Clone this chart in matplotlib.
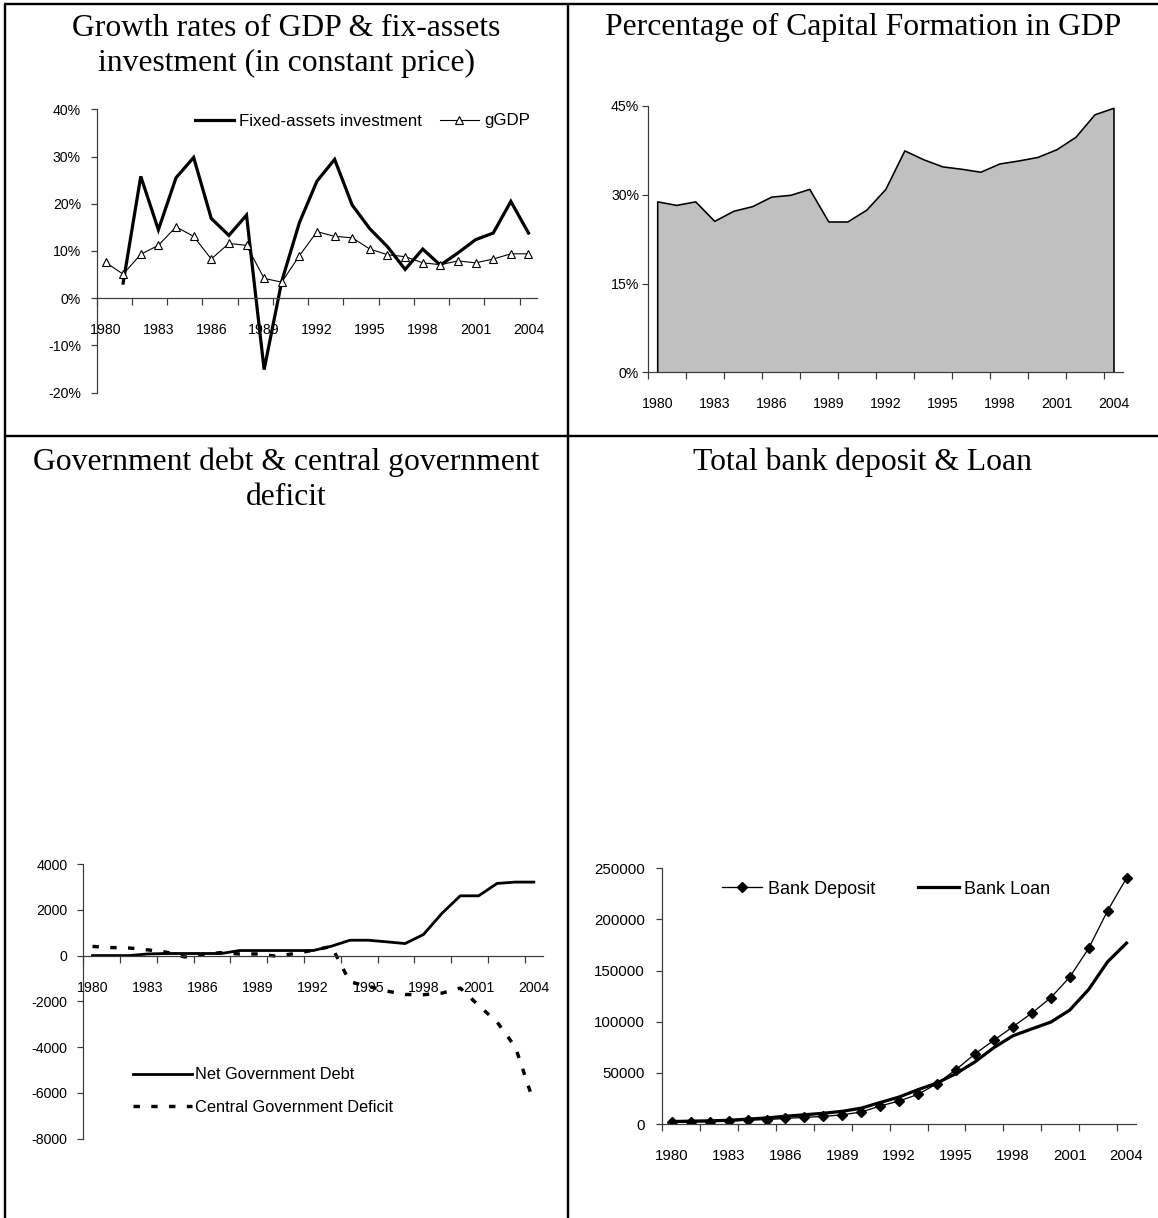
import numpy as np
import matplotlib
matplotlib.use("Agg")
import matplotlib.pyplot as plt
from matplotlib.lines import Line2D
from matplotlib.ticker import FuncFormatter

# ---------------------------------------------------------------- data
years = list(range(1980, 2005))
year_labels = [str(y) for y in years[::3]]

# growth rates, percent (constant price)
fixed_asset_growth = [np.nan, 3.2, 25.8, 14.5, 25.5, 29.8, 16.9, 13.3, 17.6, -15.1,
                      3.6, 16.0, 24.8, 29.4, 19.7, 14.7, 10.9, 6.1, 10.4, 7.0,
                      9.6, 12.4, 13.8, 20.5, 13.8]
gdp_growth = [7.6, 5.1, 9.3, 11.2, 15.1, 13.1, 8.3, 11.6, 11.2, 4.2,
              3.4, 9.0, 14.1, 13.1, 12.8, 10.4, 9.2, 8.8, 7.5, 7.1,
              7.9, 7.5, 8.3, 9.4, 9.4]

# gross capital formation as share of GDP, percent
capital_formation_share = [28.9, 28.3, 28.9, 25.6, 27.3, 28.1, 29.7, 30.0, 31.0, 25.5,
                           25.5, 27.5, 31.0, 37.5, 36.0, 34.8, 34.4, 33.9, 35.3, 35.8,
                           36.4, 37.7, 39.8, 43.6, 44.7]

# government finance
net_government_debt = [0, 0, 0, 70, 90, 90, 90, 90, 220, 220,
                       220, 220, 220, 410, 670, 670, 600, 525, 920, 1840,
                       2610, 2610, 3150, 3210, 3210]
central_government_deficit = [400, 350, 330, 250, 150, -60, 50, 130, 70, 70,
                              -30, 90, 230, 400, -1150, -1340, -1550, -1700, -1710, -1640,
                              -1420, -2180, -2900, -4000, -6410]

# banking system
bank_deposit = [1700, 2000, 2400, 2800, 3700, 4300, 5400, 6500, 7400, 9000,
                11700, 17600, 22500, 29000, 39500, 53200, 68500, 81900, 95000, 108400,
                123400, 143600, 171700, 208500, 240500]
bank_loan = [2400, 2800, 3100, 3600, 4800, 5900, 7600, 9000, 10500, 12400,
             15500, 21000, 26400, 33600, 40100, 49300, 60700, 74700, 86200, 93000,
             99600, 111300, 131500, 158600, 176900]

# ---------------------------------------------------------------- style
plt.rcParams["font.family"] = ["Liberation Sans", "DejaVu Sans"]
plt.rcParams["axes.unicode_minus"] = False
plt.rcParams["lines.scale_dashes"] = False

W, H = 1158, 1218
fig = plt.figure(figsize=(W / 100, H / 100), dpi=100)
fig.patch.set_facecolor("white")

AXIS_COLOR = "#3a3a3a"
TITLE_FONT = "Liberation Serif"
x = np.arange(len(years))


def px(v):
    """pixels -> points at 100 dpi"""
    return v * 0.72


def add_axes(left, top, right, bottom):
    return fig.add_axes([left / W, 1 - bottom / H, (right - left) / W, (bottom - top) / H])


def style_axes(ax, ylim, yticks, yfmt, zero_axis, labelsize, ypad, xpad):
    ax.set_xlim(-0.5, len(years) - 0.5)
    ax.set_ylim(*ylim)
    ax.patch.set_visible(False)
    for s in ("top", "right"):
        ax.spines[s].set_visible(False)
    for s in ("left", "bottom"):
        ax.spines[s].set_color(AXIS_COLOR)
        ax.spines[s].set_linewidth(px(1.2))
        ax.spines[s].set_zorder(5)
    if zero_axis:
        ax.spines["bottom"].set_position(("data", 0))
    ax.set_yticks(yticks)
    ax.yaxis.set_major_formatter(FuncFormatter(yfmt))
    ax.tick_params(axis="y", direction="out", length=px(6.5), width=px(1.2),
                   color=AXIS_COLOR, pad=ypad, labelsize=labelsize)
    ax.set_xticks(x[::3])
    ax.set_xticklabels(year_labels)
    ax.set_xticks(np.arange(-0.5, len(years) - 1, 2), minor=True)
    ax.tick_params(axis="x", which="major", length=0, pad=xpad, labelsize=labelsize)
    ax.tick_params(axis="x", which="minor", direction="out", length=px(6.5),
                   width=px(1.2), color=AXIS_COLOR)


def fig_line(x0, y0, x1, y1, lw=2.4):
    fig.add_artist(Line2D([x0 / W, x1 / W], [1 - y0 / H, 1 - y1 / H],
                          transform=fig.transFigure, color="black",
                          linewidth=px(lw), solid_capstyle="butt"))


def fig_title(lines, xc, baseline0, step=35):
    for i, t in enumerate(lines):
        fig.text(xc / W, 1 - (baseline0 + i * step) / H, t, ha="center", va="baseline",
                 family=TITLE_FONT, fontsize=22.8, color="black")


# ---------------------------------------------------------------- table frame
fig_line(4, 4, W, 4)
fig_line(5, 4, 5, H)
fig_line(568, 4, 568, H)
fig_line(5, 436, W, 436)

# ---------------------------------------------------------------- panel 1
fig_title(["Growth rates of GDP & fix-assets", "investment (in constant price)"], 286, 36)
ax1 = add_axes(96.7, 109.3, 537.3, 392.7)
style_axes(ax1, (-20, 40), range(-20, 41, 10), lambda v, p: f"{v:.0f}%",
           True, 10.2, px(9.3), 17.5)
ax1.plot(x, fixed_asset_growth, color="black", lw=px(3.2), solid_joinstyle="miter",
         label="Fixed-assets investment", zorder=3)
ax1.plot(x, gdp_growth, color="black", lw=px(1.1), marker="^", markersize=5.4,
         markerfacecolor="white", markeredgecolor="black", markeredgewidth=0.8,
         label="gGDP", zorder=4)
ax1.legend(loc="center left", bbox_to_anchor=(195 / W, 1 - 121 / H),
           bbox_transform=fig.transFigure, ncol=2, frameon=False, fontsize=12.2,
           handlelength=2.3, handletextpad=0.3, columnspacing=1.05,
           borderpad=0, borderaxespad=0, numpoints=1)

# ---------------------------------------------------------------- panel 2
fig_title(["Percentage of Capital Formation in GDP"], 863, 35)
ax2 = add_axes(647.7, 106, 1123, 372.5)
style_axes(ax2, (0, 45), range(0, 46, 15), lambda v, p: f"{v:.0f}%",
           False, 10.2, px(2), 18)
ax2.fill_between(x, capital_formation_share, 0, facecolor="#c0c0c0",
                 edgecolor="black", linewidth=px(1.6), zorder=2)

# ---------------------------------------------------------------- panel 3
fig_title(["Government debt & central government", "deficit"], 286, 470)
ax3 = add_axes(83.3, 864, 543, 1138.7)
style_axes(ax3, (-8000, 4000), range(-8000, 4001, 2000), lambda v, p: f"{v:.0f}",
           True, 10.2, px(9.3), 18.5)
ax3.plot(x, net_government_debt, color="black", lw=px(2.8), label="Net Government Debt",
         zorder=3)
ax3.plot(x, central_government_deficit, color="black", lw=px(3.4), dashes=(4.6, 8.2),
         dash_capstyle="butt", label="Central Government Deficit", zorder=3)
ax3.legend(loc="center left", bbox_to_anchor=(132.6 / W, 1 - 1091 / H),
           bbox_transform=fig.transFigure, ncol=1, frameon=False, fontsize=11.8,
           handlelength=3.6, handletextpad=0.22, labelspacing=1.05,
           borderpad=0, borderaxespad=0)

# ---------------------------------------------------------------- panel 4
fig_title(["Total bank deposit & Loan"], 863, 470)
ax4 = add_axes(662.3, 868.3, 1136, 1124)
style_axes(ax4, (0, 250000), range(0, 250001, 50000), lambda v, p: f"{v:.0f}",
           False, 10.8, px(10.7), 18.3)
ax4.plot(x, bank_deposit, color="black", lw=px(1.3), marker="D", markersize=5.5,
         markerfacecolor="black", markeredgecolor="black", label="Bank Deposit", zorder=4)
ax4.plot(x, bank_loan, color="black", lw=px(3.2), label="Bank Loan", zorder=3)
ax4.legend(loc="center left", bbox_to_anchor=(721.8 / W, 1 - 889.3 / H),
           bbox_transform=fig.transFigure, ncol=2, frameon=False, fontsize=13,
           handlelength=2.25, handletextpad=0.3, columnspacing=2.4,
           borderpad=0, borderaxespad=0, numpoints=1)

fig.savefig("out.png", dpi=100, facecolor="white")
